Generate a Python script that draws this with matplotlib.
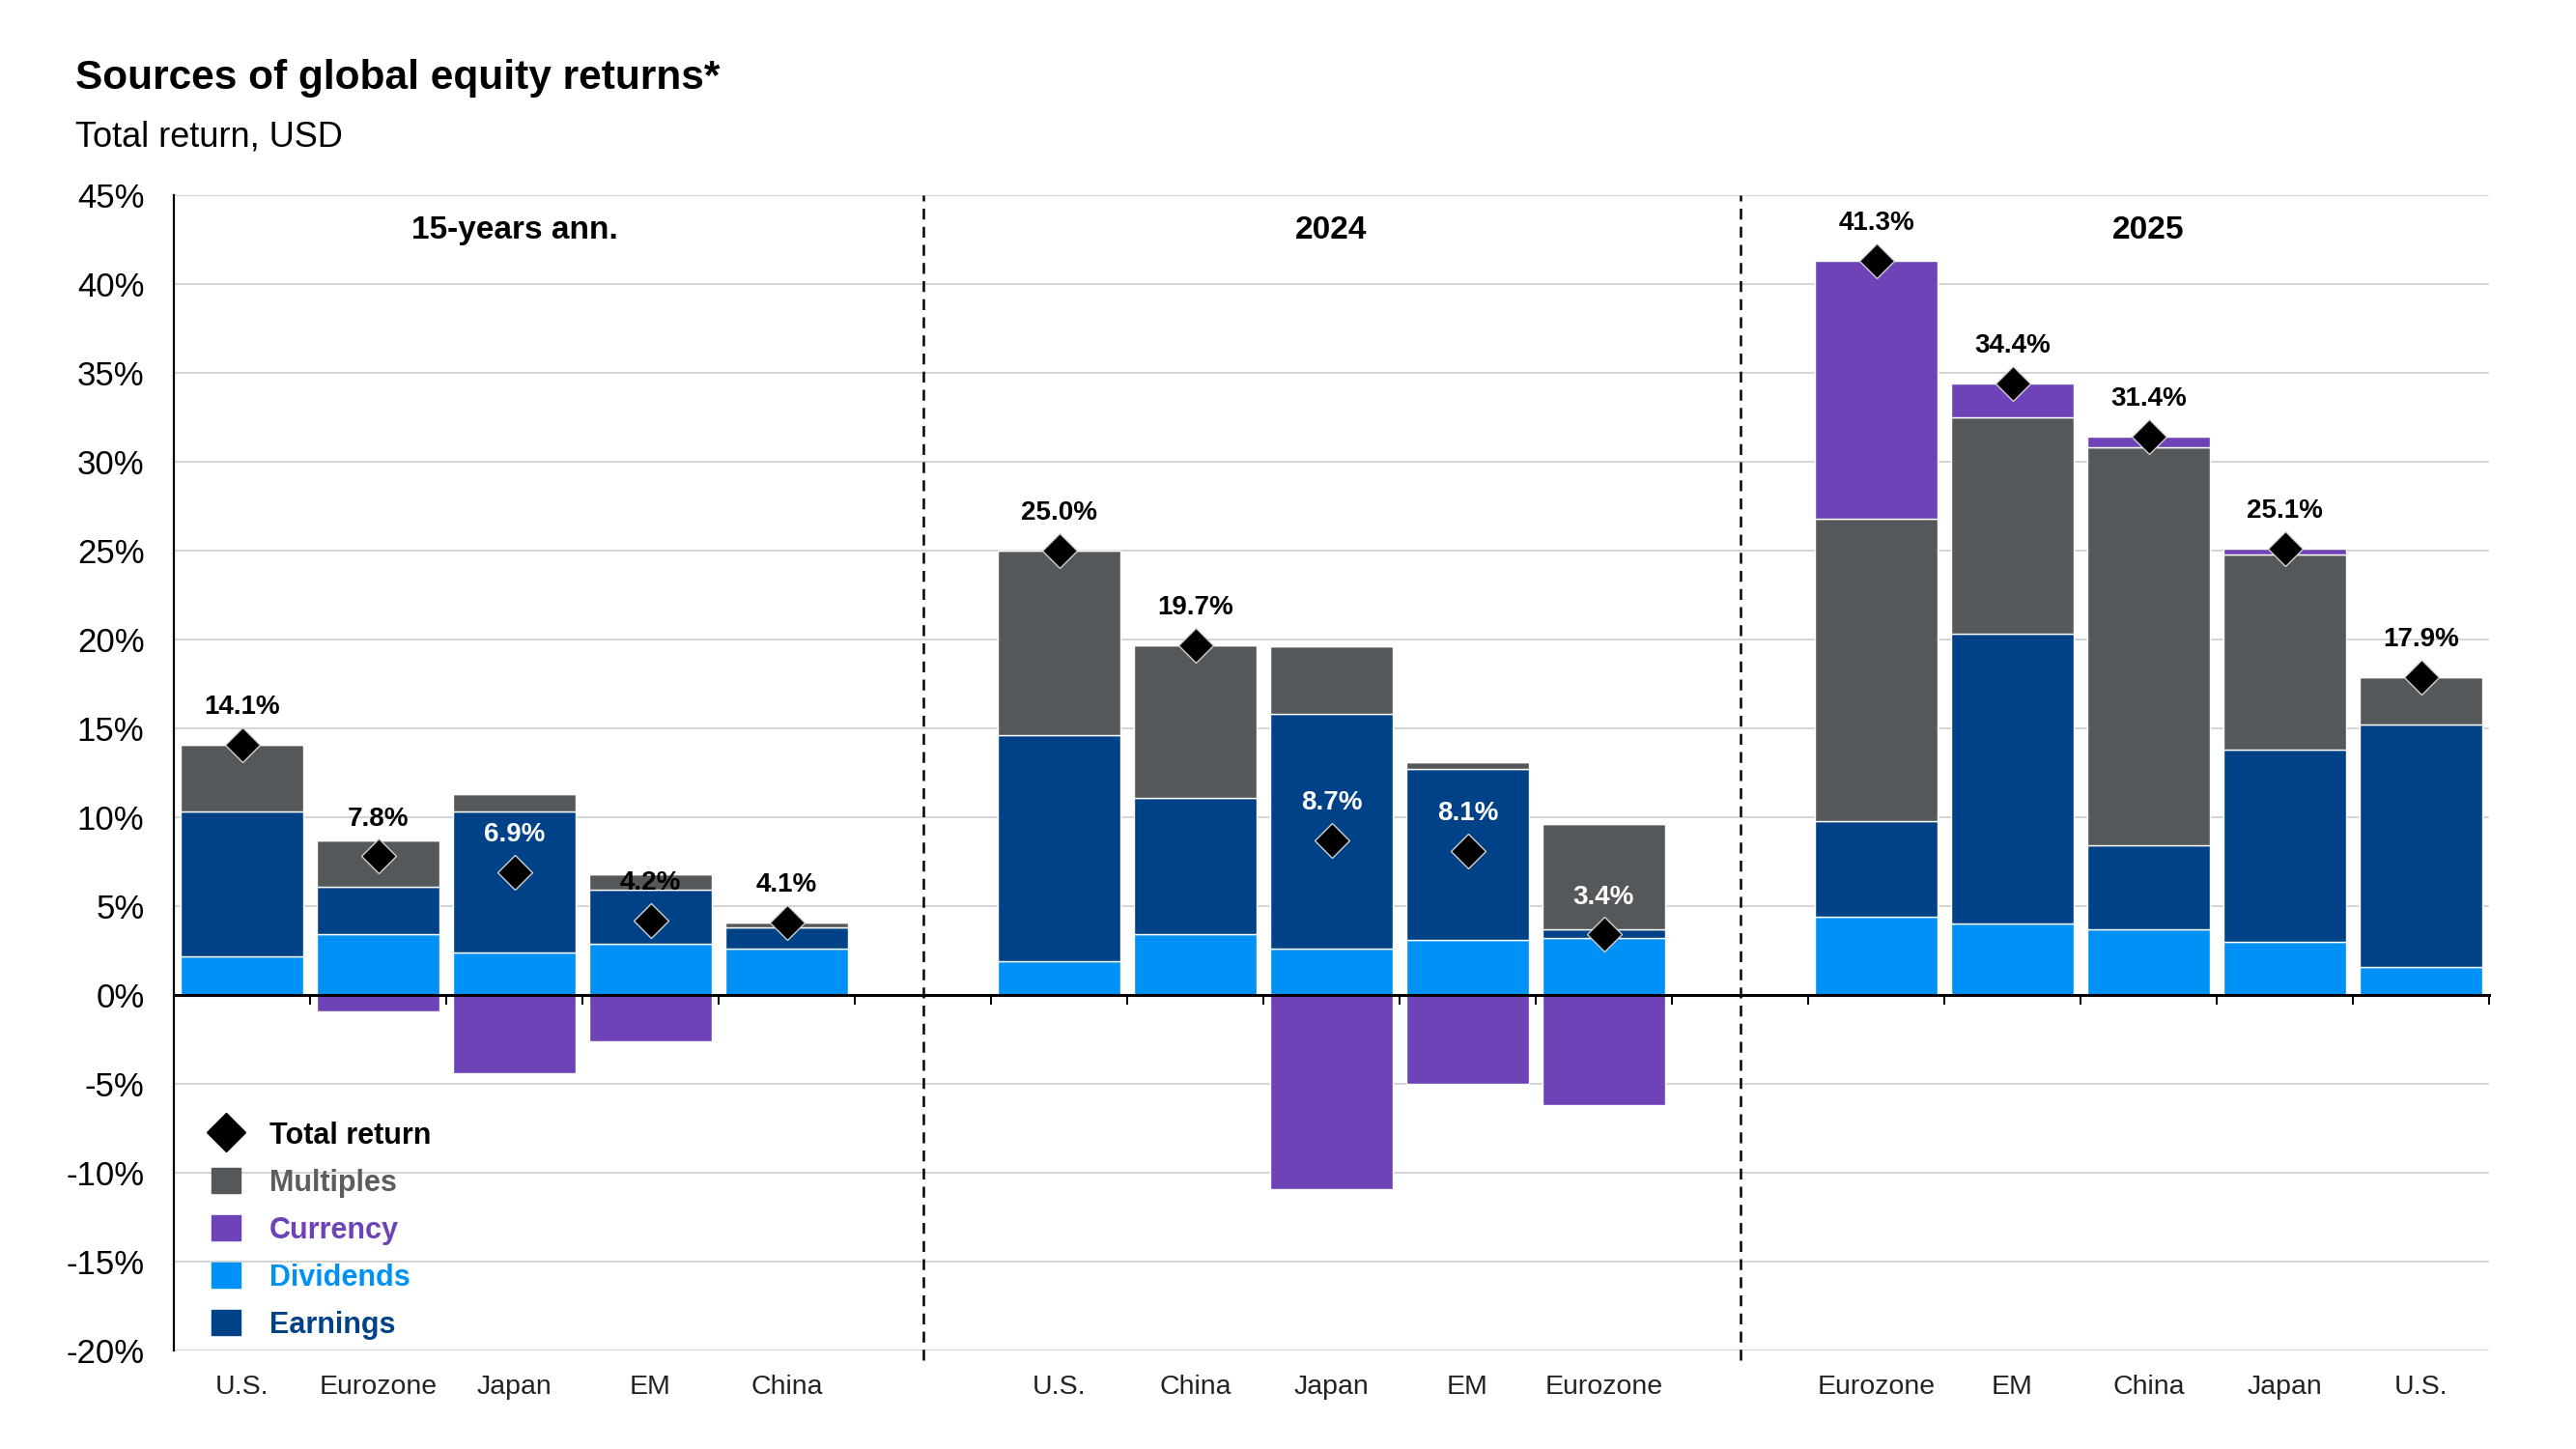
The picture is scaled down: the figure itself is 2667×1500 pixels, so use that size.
import numpy as np
import matplotlib.pyplot as plt
from matplotlib.lines import Line2D
from matplotlib.patches import Patch

plt.rcParams['font.family'] = ['Liberation Sans', 'DejaVu Sans']

# Data (percent, total return in USD)
groups = ["15-years ann.", "2024", "2025"]
regions = [
    ["U.S.", "Eurozone", "Japan", "EM", "China"],
    ["U.S.", "China", "Japan", "EM", "Eurozone"],
    ["Eurozone", "EM", "China", "Japan", "U.S."],
]
dividends = [
    [2.2, 3.4, 2.4, 2.9, 2.6],
    [1.9, 3.4, 2.6, 3.1, 3.2],
    [4.4, 4.0, 3.7, 3.0, 1.6],
]
earnings = [
    [8.1, 2.7, 7.9, 3.0, 1.2],
    [12.7, 7.7, 13.2, 9.6, 0.5],
    [5.4, 16.3, 4.7, 10.8, 13.6],
]
multiples = [
    [3.8, 2.6, 1.0, 0.9, 0.3],
    [10.4, 8.6, 3.8, 0.4, 5.9],
    [17.0, 12.2, 22.4, 11.0, 2.7],
]
currency = [
    [0.0, -0.9, -4.4, -2.6, 0.0],
    [0.0, 0.0, -10.9, -5.0, -6.2],
    [14.5, 1.9, 0.6, 0.3, 0.0],
]
total_return = [
    [14.1, 7.8, 6.9, 4.2, 4.1],
    [25.0, 19.7, 8.7, 8.1, 3.4],
    [41.3, 34.4, 31.4, 25.1, 17.9],
]

components = [
    ("Dividends", dividends, "#0091F7"),
    ("Earnings", earnings, "#004288"),
    ("Multiples", multiples, "#54585A"),
    ("Currency", currency, "#6E43B7"),
]

ymin, ymax = -20, 45
group_slots = 6  # 5 bars + 1 gap slot per group

fig = plt.figure(figsize=(26.67, 15), dpi=100)
ax = fig.add_axes([180 / 2667, 1 - 1398 / 1500, 2397 / 2667, 1196 / 1500])

# x positions for every bar
xs, names = [], []
for g in range(len(groups)):
    for i, name in enumerate(regions[g]):
        xs.append(g * group_slots + i + 0.5)
        names.append(name)
xs = np.array(xs)

flat = lambda arr: np.array([v for row in arr for v in row])

pos_base = np.zeros(len(xs))
neg_base = np.zeros(len(xs))
for label, arr, color in components:
    vals = flat(arr)
    pos = np.where(vals > 0, vals, 0)
    neg = np.where(vals < 0, vals, 0)
    ax.bar(xs, pos, bottom=pos_base, width=0.9, color=color,
           edgecolor="white", linewidth=1.0, zorder=2)
    ax.bar(xs, neg, bottom=neg_base, width=0.9, color=color,
           edgecolor="white", linewidth=1.0, zorder=2)
    pos_base += pos
    neg_base += neg

totals = flat(total_return)
ax.plot(xs, totals, linestyle="none", marker="D", markersize=18,
        color="black", markeredgecolor="#d0d0d0", markeredgewidth=1.0, zorder=5)

# value labels: white when the label sits inside the bar
for x, t, top in zip(xs, totals, pos_base):
    col = "white" if t + 2.4 < top - 1.0 else "black"
    ax.annotate(f"{t:.1f}%", (x, t), xytext=(0, 28), textcoords="offset points",
                ha="center", va="center", fontsize=20, fontweight="bold",
                color=col, zorder=6)

# group headers and dividers
for g, title in enumerate(groups):
    ax.text(g * group_slots + 2.5, 43.0, title, ha="center", va="center",
            fontsize=24, fontweight="bold", color="black")
for g in range(1, len(groups)):
    ax.axvline(g * group_slots - 0.5, ymin=-0.008, ymax=1, color="black",
               linewidth=1.8, linestyle=(0, (4.5, 3)), clip_on=False, zorder=3)

# axes styling
ax.set_xlim(0, len(groups) * group_slots - 1)
ax.set_ylim(ymin, ymax)
ax.set_yticks(np.arange(ymin, ymax + 1, 5))
ax.set_yticklabels([f"{v}%" for v in range(ymin, ymax + 1, 5)])
ax.tick_params(axis="y", length=0, pad=22, labelsize=25)
ax.set_xticks(xs)
ax.set_xticklabels(names)
ax.tick_params(axis="x", length=0, pad=18, labelsize=20.5, labelcolor="#222222")
ax.grid(axis="y", color="#d4d4d4", linewidth=1.4)
ax.set_axisbelow(True)
for s in ["top", "right", "bottom"]:
    ax.spines[s].set_visible(False)
ax.spines["left"].set_linewidth(1.6)

# zero line with category boundary ticks
sec = ax.secondary_xaxis((0 - ymin) / (ymax - ymin))
sec.set_zorder(4)
sec.set_xticks(np.arange(1, len(groups) * group_slots))
sec.set_xticklabels([])
sec.tick_params(axis="x", length=7, width=1.4, direction="out", color="black")
sec.spines["bottom"].set_linewidth(2.2)
sec.spines["bottom"].set_color("black")

# legend
handles = [
    Line2D([], [], linestyle="none", marker="D", markersize=20, color="black"),
    Patch(color="#54585A"),
    Patch(color="#6E43B7"),
    Patch(color="#0091F7"),
    Patch(color="#004288"),
]
labels = ["Total return", "Multiples", "Currency", "Dividends", "Earnings"]
ax.legend(handles, labels, loc="upper left", bbox_to_anchor=(0.005, 0.222),
          frameon=False, prop={"size": 22, "weight": "bold"},
          labelcolor=["black", "#5A5E60", "#6E43B7", "#0091F7", "#004288"],
          handlelength=0.95, handleheight=0.95, handletextpad=1.0,
          labelspacing=0.6)

fig.text(78 / 2667, 0.946, "Sources of global equity returns*", fontsize=30.5,
         fontweight="bold", va="center", ha="left")
fig.text(78 / 2667, 0.905, "Total return, USD", fontsize=26, va="center", ha="left")

fig.savefig("out.png", dpi=100, facecolor="white")
